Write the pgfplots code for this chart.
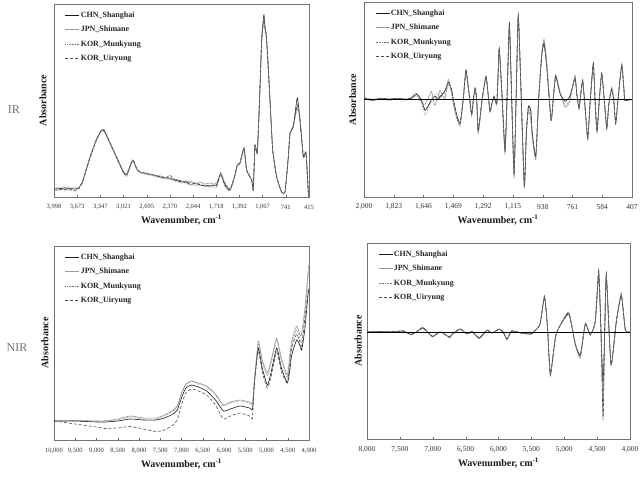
\documentclass[border=0pt]{standalone}
\usepackage{fontspec}
\setmainfont{Liberation Serif}
\usepackage{pgfplots}
\usepackage{pgfplotstable}
\pgfplotsset{compat=1.18}

% ---------- FT-IR absorbance ----------
\pgfplotstableread{
wn    chn  jpn  mun  uir
3998  8    9    6    7
3900  8.5  9    7    7.5
3850  8    9.5  7.5  7
3780  8.5  9    6.5  8
3700  8    9    7    6
3657  9    9    8    8
3600  15   15   14   14
3492  40   40   39   39
3400  58   58   57   57
3330  67   66   66   67
3290  66   67   65   66
3165  47   47   46   47
3024  25   26   24   25
2977  22   23   20   22
2892  37   37   36   37
2840  29   29   28   29
2790  25   25   24   25
2600  22   22   21   22
2500  20   21   19   20
2415  19   19   18   19.5
2370  19   18   18   22
2300  17   18   16   17
2200  15   16   14   16
2150  16   15   15   14
2100  13   16   12   15
2044  13   15   12   14
1990  14   13   11   12
1947  12   15   11   13
1880  11   13   12   11
1800  11   14   10   12
1760  12   13   9    11
1712  12   14   10   11
1656  24   24   22   23
1600  13   15   11   12
1525  7    8    6    7
1455  22   22   21   22
1423  32   32   31   32
1385  34   34   33   34
1328  49   48   47   49
1291  27   27   26   27
1220  17   17   16   17
1198  7    7    6    7
1174  52   51   50   52
1142  44   43   43   44
1114  90   89   88   90
1080  157  156  155  156
1060  175  172  170  173
1048  182  178  176  180
1030  168  166  165  167
1019  164  163  162  164
1001  147  146  146  147
963   97   97   96   97
925   47   47   46   47
869   20   20   19   20
799   5    5    4    5
752   5    5    4    5
706   40   40   38   40
682   64   63   62   64
636   70   72   70   71
580   99   90   88   92
542   77   80   76   78
495   40   42   39   41
457   44   45   43   44
425   5    6    5    5
415   0    0    0    0
}\irabs

% ---------- FT-IR second derivative ----------
\pgfplotstableread{
wn    chn  jpn  mun  uir
2000  1    2    0    1
1950  -1   0    -1   -1
1900  1    1    0    1
1850  0    -1   1    0
1800  1    1    0    1
1750  0    0    -1   0
1720  1    2    1    1
1687  5    6    3    5
1660  0    -3   -2   0
1637  -11  -5   -16  -11
1610  -4   4    -6   -4
1598  0    8    -2   0
1580  3    -6   4    3
1560  0    2    6    1
1548  2    9    4    3
1520  8    0    3    8
1499  17   20   14   17
1480  10   8    6    10
1469  0    -4   -6   0
1450  -15  -18  -18  -15
1429  -24  -26  -27  -24
1410  0    2    -2   0
1394  29   27   28   29
1375  5    4    4    5
1360  -15  -17  -16  -15
1350  0    -2   -2   0
1340  11   10   9    11
1330  0    -2   -3   0
1321  -32  -34  -33  -32
1298  0    -2   -1   0
1275  23   22   22   23
1262  5    4    4    5
1251  -12  -13  -13  -12
1240  -4   -5   -5   -4
1227  3    2    2    3
1211  -4   -6   -5   -4
1204  20   18   19   20
1196  51   49   50   51
1180  5    4    4    5
1162  -51  -54  -53  -51
1150  0    -2   -1   0
1136  75   72   74   76
1122  0    -2   -1   0
1108  -74  -78  -76  -75
1096  0    -2   -1   0
1083  83   86   85   84
1065  0    -2   -1   0
1047  -87  -88  -88  -87
1035  -35  -30  -33  -35
1023  -7   -12  -10  -7
1009  -11  -20  -15  -11
1000  -34  -38  -36  -34
979   -57  -60  -58  -57
962   0    -2   -1   0
944   43   46   45   43
930   56   60   58   56
914   33   38   35   33
888   -21  -20  -21  -21
875   0    2    1    0
861   23   25   24   23
835   6    8    6    6
805   -2   -8   -6   -2
776   3    -2   0    3
746   21   24   23   21
735   5    6    5    5
722   -9   -10  -9   -9
712   5    4    5    5
700   19   17   18   19
685   -10  -11  -10  -10
670   -39  -40  -39  -39
655   0    -1   0    0
637   36   35   36   36
627   0    -1   0    0
615   -32  -33  -32  -32
601   0    0    0    0
587   26   25   26   26
572   0    0    0    0
557   -29  -30  -29  -29
545   -5   -5   -5   -5
528   10   12   11   10
516   0    0    0    0
504   -24  -25  -24  -24
490   0    0    0    0
468   34   36   35   34
455   10   10   10   10
449   -1   -1   -1   -1
407   0    0    0    0
}\irder

% ---------- FT-NIR absorbance ----------
\pgfplotstableread{
wn     chn  jpn  mun  uir
10000  19   19   19   19
9500   19   19.5 19.5 16
9000   18   19   19   13
8800   18   19   19   11.5
8500   19   21   20   12
8200   21   24   23   13.5
7900   20   22   21   11
7600   20   22   21   8.5
7400   22   25   24   10
7200   26   30   29   15
7100   30   34   33   20
7000   42   47   46   35
6900   52   56   55   47
6760   55   59   58.5 51
6600   53   57   56   49
6407   49   54   53   45
6200   40   46   45   35
6016   29   35   34   21
5850   31   38   37   24
5623   34   40   39   27
5400   32   38   37   24
5330   31   37   36   22
5280   60   62   61   58
5193   92   99   96   89
5100   72   80   78   68
4981   55   67   64   52
4900   66   78   75   62
4760   92   102  99   88
4650   72   82   79   68
4510   57   65   62   57
4450   70   85   80   76
4407   85   99   95   92
4289   100  114  110  106
4200   93   104  100  96
4172   90   107  98   94
4100   110  130  125  120
4016   148  172  165  150
4000   150  174  167  152
}\nirabs

% ---------- FT-NIR second derivative ----------
\pgfplotstableread{
wn    chn  jpn  mun  uir
8000  0    0    0    0
7800  0.5  0    0.5  0
7600  0    0.5  0    0.5
7450  1    1    1    1
7331  -2.5 -3   -2   -2.5
7250  0    0    0    0
7153  4    5    4    4.5
7080  0    0    0    0
7001  -4.5 -5   -4   -4.5
6890  0    0    0    0
6800  -3   -3   -3   -3
6748  -5   -6   -5   -5
6662  0    0    0    0
6581  3    3    2.5  3
6479  -2   -2   -2   -2
6400  0.5  1    0    0
6292  -6   -7   -6   -6
6175  2    2    1.5  2
6100  -1   -1   -1   -1
5988  3    3    2.5  3
5930  0    0    0    0
5871  -7   -8   -7   -7
5800  1    1    1    1
5658  -1   -1   -1   -1
5506  -2   -2   -2   -2
5404  4    4    4    4
5364  9    9    9    9
5300  35   36   35   36
5255  5    5    5    5
5212  -42  -44  -42  -43
5136  -6   -6   -6   -6
5084  4    4    4    4
4932  18   20   19   19
4832  -12  -13  -12  -12
4756  -23  -26  -24  -24
4680  8    9    8    8
4604  -3   -3   -3   -3
4528  10   11   10   11
4476  57   62   60   63
4441  0    0    0    0
4410  -52  -85  -70  -88
4385  0    0    0    0
4360  55   59   57   59
4289  -33  -33  -33  -32
4208  10   11   10   11
4132  37   39   38   36
4071  2    2    2    2
4000  0    0    0    0
}\nirder

\pgfplotsset{
  spectrum/.style={
    scale only axis,
    anchor=south west,
    x dir=reverse,
    scaled x ticks=false,
    axis line style={black!55, line width=0.8pt},
    ytick=\empty,
    xtick pos=bottom,
    tick align=inside,
    major tick length=2pt,
    tick style={black!60},
    xticklabel style={text=black!80, anchor=center},
    label style={font=\fontsize{10}{12}\selectfont\bfseries, text=black!90},
    xlabel={Wavenumber, cm\textsuperscript{-1}},
    ylabel={Absorbance},
    legend style={draw=none, fill=none, inner sep=0pt,
      at={(axis description cs:0,1)}, anchor=north west,
      xshift=11pt, yshift=-6pt,
      font=\fontsize{8}{9}\selectfont\bfseries, text=black!85,
      row sep=5pt,
      nodes={text height=6pt, text depth=1.5pt, inner sep=1pt}},
    legend cell align=left,
    legend image code/.code={\draw[##1] (0pt,0pt) -- (14pt,0pt);},
  },
  chn/.style={black!90, line width=0.6pt, smooth, tension=0.3},
  jpn/.style={black!40, line width=0.6pt, smooth, tension=0.3},
  mun/.style={black!55, line width=0.6pt, densely dotted, smooth, tension=0.3},
  uir/.style={black!70, line width=0.6pt, dash pattern=on 3pt off 2pt, smooth, tension=0.3},
}

\begin{document}
\begin{tikzpicture}[x=1pt, y=1pt]
\path[use as bounding box] (0,0) rectangle (642,481);

\node[font=\fontsize{12}{14}\selectfont, text=black!55] at (14,371) {IR};
\node[font=\fontsize{12}{14}\selectfont, text=black!55] at (17,133) {NIR};

% IR absorbance
\begin{axis}[spectrum, at={(54pt,284pt)}, width=255pt, height=193pt,
  xmin=415, xmax=3998, ymin=0, ymax=193,
  xtick={3998,3673,3347,3021,2695,2370,2044,1718,1392,1067,741,415},
  xticklabels={{3,998},{3,673},{3,347},{3,021},{2,695},{2,370},{2,044},{1,718},{1,392},{1,067},{741},{415}},
  xticklabel style={font=\fontsize{6.5}{8}\selectfont, yshift=-10pt},
  xlabel style={at={(axis description cs:0.5,-0.119)}, anchor=center},
  ylabel style={at={(axis description cs:-0.043,0.5)}, anchor=center},
]
\addplot[chn] table[x=wn, y=chn] {\irabs};
\addplot[jpn] table[x=wn, y=jpn] {\irabs};
\addplot[mun] table[x=wn, y=mun] {\irabs};
\addplot[uir] table[x=wn, y=uir] {\irabs};
\legend{CHN\_Shanghai, JPN\_Shimane, KOR\_Munkyung, KOR\_Uiryung}
\end{axis}

% IR second derivative
\begin{axis}[spectrum, at={(364pt,284pt)}, width=268pt, height=195pt,
  xmin=407, xmax=2000, ymin=-97.7, ymax=97.3,
  xtick={2000,1823,1646,1469,1292,1115,938,761,584,407},
  xticklabels={{2,000},{1,823},{1,646},{1,469},{1,292},{1,115},{938},{761},{584},{407}},
  xticklabel style={font=\fontsize{7.5}{9}\selectfont, yshift=-9.7pt},
  xlabel style={at={(axis description cs:0.5,-0.118)}, anchor=center},
  ylabel style={at={(axis description cs:-0.042,0.5)}, anchor=center},
]
\addplot[chn] table[x=wn, y=chn] {\irder};
\addplot[jpn] table[x=wn, y=jpn] {\irder};
\addplot[mun] table[x=wn, y=mun] {\irder};
\addplot[uir] table[x=wn, y=uir] {\irder};
\addplot[black, line width=0.9pt, forget plot] coordinates {(2000,0) (407,0)};
\legend{CHN\_Shanghai, JPN\_Shimane, KOR\_Munkyung, KOR\_Uiryung}
\end{axis}

% NIR absorbance
\begin{axis}[spectrum, at={(54pt,41pt)}, width=255pt, height=194pt,
  xmin=4000, xmax=10000, ymin=0, ymax=194,
  xtick={10000,9500,9000,8500,8000,7500,7000,6500,6000,5500,5000,4500,4000},
  xticklabels={{10,000},{9,500},{9,000},{8,500},{8,000},{7,500},{7,000},{6,500},{6,000},{5,500},{5,000},{4,500},{4,000}},
  xticklabel style={font=\fontsize{6.5}{8}\selectfont, yshift=-10.7pt},
  xlabel style={at={(axis description cs:0.5,-0.124)}, anchor=center},
  ylabel style={at={(axis description cs:-0.035,0.5)}, anchor=center},
]
\addplot[chn] table[x=wn, y=chn] {\nirabs};
\addplot[jpn] table[x=wn, y=jpn] {\nirabs};
\addplot[mun] table[x=wn, y=mun] {\nirabs};
\addplot[uir] table[x=wn, y=uir] {\nirabs};
\legend{CHN\_Shanghai, JPN\_Shimane, KOR\_Munkyung, KOR\_Uiryung}
\end{axis}

% NIR second derivative
\begin{axis}[spectrum, at={(367pt,42pt)}, width=263pt, height=196pt,
  xmin=4000, xmax=8000, ymin=-107, ymax=89,
  xtick={8000,7500,7000,6500,6000,5500,5000,4500,4000},
  xticklabels={{8,000},{7,500},{7,000},{6,500},{6,000},{5,500},{5,000},{4,500},{4,000}},
  xticklabel style={font=\fontsize{7.5}{9}\selectfont, yshift=-11pt},
  xlabel style={at={(axis description cs:0.5,-0.121)}, anchor=center},
  ylabel style={at={(axis description cs:-0.033,0.5)}, anchor=center},
]
\addplot[chn] table[x=wn, y=chn] {\nirder};
\addplot[jpn] table[x=wn, y=jpn] {\nirder};
\addplot[mun] table[x=wn, y=mun] {\nirder};
\addplot[uir] table[x=wn, y=uir] {\nirder};
\addplot[black, line width=0.9pt, forget plot] coordinates {(8000,0) (4000,0)};
\legend{CHN\_Shanghai, JPN\_Shimane, KOR\_Munkyung, KOR\_Uiryung}
\end{axis}
\end{tikzpicture}
\end{document}
